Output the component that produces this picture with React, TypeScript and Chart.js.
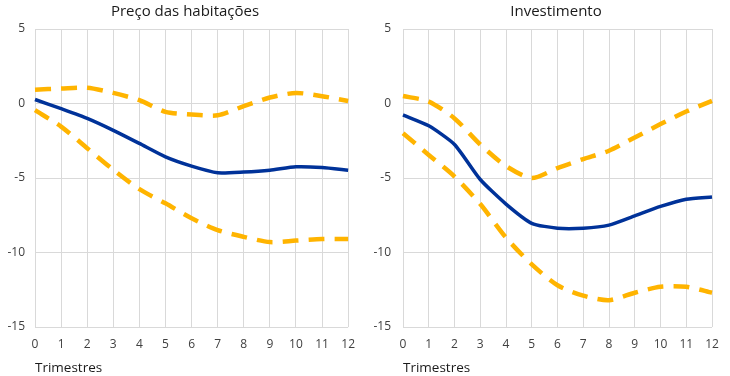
import React, { useEffect, useRef } from 'react';
import { Chart, registerables } from 'chart.js';

Chart.register(...registerables);

const quarters = ['0', '1', '2', '3', '4', '5', '6', '7', '8', '9', '10', '11', '12'];
const yTicks = [5, 0, -5, -10, -15];

const housePrice = [0.27, -0.35, -1.0, -1.8, -2.68, -3.58, -4.2, -4.65, -4.6, -4.48, -4.25, -4.3, -4.48];
const housePriceUpper = [0.93, 1.0, 1.05, 0.71, 0.22, -0.56, -0.74, -0.79, -0.18, 0.4, 0.71, 0.49, 0.17];
const housePriceLower = [-0.45, -1.55, -3.0, -4.45, -5.75, -6.7, -7.7, -8.5, -8.95, -9.3, -9.2, -9.1, -9.1];

const investment = [-0.77, -1.5, -2.75, -5.1, -6.75, -8.04, -8.37, -8.37, -8.16, -7.54, -6.91, -6.42, -6.27];
const investmentUpper = [0.5, 0.13, -1.0, -2.75, -4.2, -5.0, -4.33, -3.73, -3.17, -2.28, -1.38, -0.54, 0.18];
const investmentLower = [-2.0, -3.45, -4.9, -6.75, -9.0, -10.8, -12.2, -12.9, -13.2, -12.7, -12.3, -12.3, -12.7];

const BLUE = '#003299';
const ORANGE = '#FFB400';
const GRID = '#D9D9D9';
const TICK = '#404040';
const FONT = "'Open Sans', 'DejaVu Sans', sans-serif";

type PanelProps = {
  title: string;
  titleX: number;
  central: number[];
  upper: number[];
  lower: number[];
  left: number;
  yWidth: number;
  tickPad: number;
  padRight: number;
};

function Panel(props: PanelProps) {
  const ref = useRef<HTMLCanvasElement | null>(null);
  useEffect(() => {
    if (!ref.current) return;
    const band = (data: number[]) => ({
      data,
      borderColor: ORANGE,
      borderWidth: 4.5,
      borderDash: [16, 10],
      borderCapStyle: 'butt' as const,
      pointRadius: 0,
      tension: 0.25,
      fill: false,
    });
    const titlePlugin = {
      id: 'panelTitle',
      afterDraw(chart: any) {
        const ctx = chart.ctx;
        ctx.save();
        ctx.font = `15px ${FONT}`;
        ctx.fillStyle = '#1a1a1a';
        ctx.textAlign = 'center';
        ctx.textBaseline = 'middle';
        ctx.fillText(props.title, props.titleX, 12);
        ctx.restore();
      },
    };
    const chart = new Chart(ref.current, {
      type: 'line',
      data: {
        labels: quarters,
        datasets: [
          {
            data: props.central,
            borderColor: BLUE,
            borderWidth: 3.5,
            pointRadius: 0,
            tension: 0.2,
            fill: false,
          },
          band(props.upper),
          band(props.lower),
        ],
      },
      plugins: [titlePlugin],
      options: {
        animation: false,
        responsive: false,
        events: [],
        layout: { padding: { left: 0, right: props.padRight, top: 29, bottom: 0 } },
        plugins: {
          legend: { display: false },
          tooltip: { enabled: false },
          title: { display: false },
        },
        scales: {
          x: {
            type: 'category',
            offset: false,
            grid: { color: GRID, lineWidth: 1, drawTicks: false },
            border: { display: false },
            ticks: {
              color: TICK,
              font: { family: FONT, size: 12 },
              padding: 10,
              maxRotation: 0,
              autoSkip: false,
            },
            title: {
              display: true,
              text: 'Trimestres',
              align: 'start',
              color: '#1a1a1a',
              font: { family: FONT, size: 13.5 },
              padding: { top: 0, bottom: 0 },
            },
            afterFit: (axis: any) => {
              axis.height = 49;
            },
          },
          y: {
            min: -15,
            max: 5,
            grid: { color: GRID, lineWidth: 1, drawTicks: false },
            border: { display: false },
            afterBuildTicks: (axis: any) => {
              axis.ticks = yTicks.map((v) => ({ value: v }));
            },
            ticks: {
              color: TICK,
              font: { family: FONT, size: 12 },
              padding: props.tickPad,
            },
            afterFit: (axis: any) => {
              axis.width = props.yWidth;
            },
          },
        },
      },
    });
    return () => chart.destroy();
  }, []);
  return (
    <canvas
      ref={ref}
      width={365}
      height={376}
      style={{ position: 'absolute', left: props.left, top: 0, width: 365, height: 376 }}
    />
  );
}

export default function App() {
  return (
    <div style={{ position: 'absolute', left: 0, top: 0, width: 730, height: 376, background: '#fff' }}>
      <Panel
        title="Preço das habitações"
        titleX={185}
        central={housePrice}
        upper={housePriceUpper}
        lower={housePriceLower}
        left={0}
        yWidth={35}
        tickPad={10}
        padRight={16}
      />
      <Panel
        title="Investimento"
        titleX={191}
        central={investment}
        upper={investmentUpper}
        lower={investmentLower}
        left={365}
        yWidth={38}
        tickPad={12}
        padRight={18}
      />
    </div>
  );
}
